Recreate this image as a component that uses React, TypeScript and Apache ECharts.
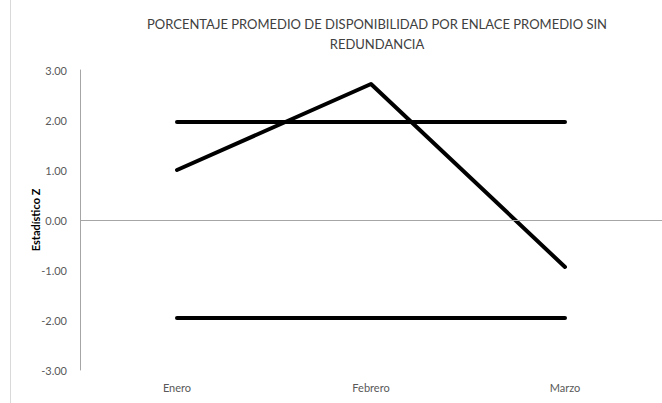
import React, { useEffect, useRef } from "react";
import * as echarts from "echarts";

const categories = ["Enero", "Febrero", "Marzo"];
const estadisticoZ = [1.0, 2.72, -0.94];
const limiteSuperior = [1.96, 1.96, 1.96];
const limiteInferior = [-1.96, -1.96, -1.96];
const yTicks = { min: -3, max: 3, interval: 1 };

export default function App() {
  const ref = useRef<HTMLDivElement>(null);
  useEffect(() => {
    if (!ref.current) return;
    const chart = echarts.init(ref.current, null, { renderer: "svg" });
    const lineStyle = { color: "#000000", width: 4, cap: "round", join: "round" };
    chart.setOption({
      animation: false,
      backgroundColor: "#ffffff",
      textStyle: { fontFamily: "Lato" },
      title: {
        text: "PORCENTAJE PROMEDIO DE DISPONIBILIDAD POR ENLACE PROMEDIO SIN\nREDUNDANCIA",
        left: 372,
        textAlign: "center",
        top: 9,
        textStyle: {
          fontFamily: "Lato",
          fontSize: 13,
          fontWeight: "normal",
          color: "#404040",
          lineHeight: 20,
        },
      },
      graphic: [
        {
          type: "line",
          shape: { x1: 10.5, y1: 0, x2: 10.5, y2: 403 },
          style: { stroke: "#d9d9d9", lineWidth: 1 },
        },
      ],
      grid: { left: 80, top: 70, width: 585, height: 300, containLabel: false },
      xAxis: {
        type: "category",
        data: categories,
        boundaryGap: true,
        axisLine: { show: false, onZero: false },
        axisTick: { show: false },
        axisLabel: { color: "#595959", fontSize: 11, margin: 12, fontFamily: "Lato" },
        splitLine: { show: false },
      },
      yAxis: {
        type: "value",
        min: yTicks.min,
        max: yTicks.max,
        interval: yTicks.interval,
        name: "Estadístico Z",
        nameLocation: "middle",
        nameGap: 39,
        nameMoveOverlap: false,
        nameTextStyle: { color: "#000000", fontSize: 11, fontWeight: "bold", fontFamily: "Lato" },
        axisLine: { show: true, lineStyle: { color: "#a6a6a6", width: 1 } },
        axisTick: { show: false },
        axisLabel: {
          color: "#595959",
          fontSize: 11,
          margin: 13,
          fontFamily: "Lato",
          formatter: (v: number) => v.toFixed(2),
        },
        splitLine: { show: false },
      },
      series: [
        {
          name: "Estadístico Z",
          type: "line",
          data: estadisticoZ,
          showSymbol: false,
          lineStyle,
          markLine: {
            silent: true,
            symbol: ["none", "none"],
            label: { show: false },
            lineStyle: { color: "#a6a6a6", width: 1, type: "solid" },
            data: [{ yAxis: 0 }],
          },
        },
        { name: "Límite superior", type: "line", data: limiteSuperior, showSymbol: false, lineStyle },
        { name: "Límite inferior", type: "line", data: limiteInferior, showSymbol: false, lineStyle },
      ],
    });
    return () => chart.dispose();
  }, []);
  return (
    <div
      ref={ref}
      style={{ position: "fixed", left: 0, top: 0, width: 662, height: 403 }}
    />
  );
}
